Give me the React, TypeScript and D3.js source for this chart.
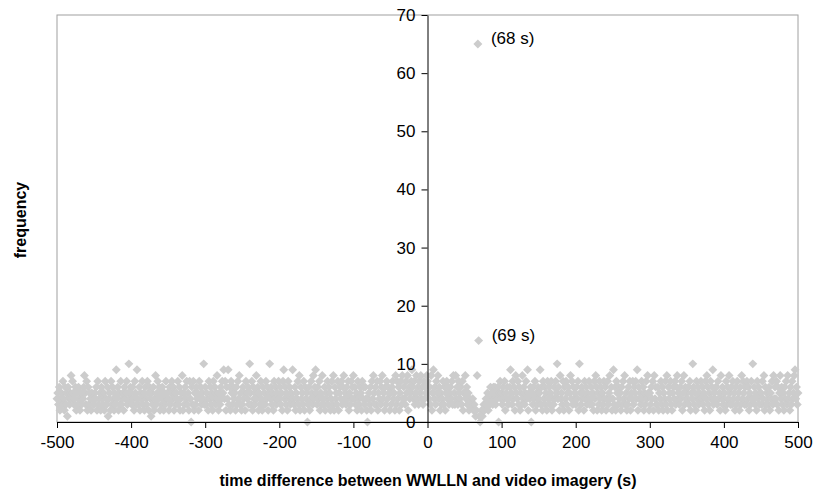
import { useEffect, useRef } from "react"
import * as d3 from "d3"

// frequency per second, one char per second ("a" = 10), rows of 50 s starting at rowStarts[i]
const rowStarts = [-500, -450, -400, -350, -300, -250, -200, -150, -100, -50, 0, 50, 100, 150, 200, 250, 300, 350, 400, 450, 500]
const countRows = [
  "4536245374 2635164358 4753462536 4253546853 7263542543",
  "3546273452 6435274361 4527364253 9462537345 2645735a46",
  "5364275394 3625473526 4375264153 6248357462 5364253745",
  "4263574625 3547362458 2536473527 4063725364 52746354a3",
  "6354274635 2746358425 3647594726 4936275364 5263748352",
  "3645275463 a537264358 4625374263 5374625a46 3527463547",
  "4635279463 5274635494 3625473826 4537264503 6247538469",
  "5364725384 3625473652 4738264537 2564736845 3647253746",
  "8463527436 5274636420 4536274853 6372547368 4526374652",
  "5367452837 4625738464 3758264579 6473584637 5846374658",
  "7546382594 6375846253 4736257463 5647385384 6375463725",
  "5846352433 3423212800 1012123234 3524364536 4635460574",
  "5364725463 4695374628 5473625384 6357492546 0536472536",
  "4593627463 5274635724 36475a4628 4537264735 6258473645",
  "36472a5364 5274635473 4635274862 5374625374 6247358462",
  "4936275364 5263748352 3647254736 5749264537 4625374852",
  "5364728463 3625473625 4738264573 2564736845 3647258364",
  "54637254a6 3527463547 4635274863 5274693546 6374528463",
  "4527364853 6374526374 5263847536 374625374a 4635274635",
  "5374826354 3625473846 4736258463 5264738452 6374589463",
  "5",
]

// the two labelled outliers
const peakTimes = [68, 69]
const peakCounts = [65, 14]
const peakLabels = ["(68 s)", "(69 s)"]

const xTicks = [-500, -400, -300, -200, -100, 0, 100, 200, 300, 400, 500]
const yTicks = [0, 10, 20, 30, 40, 50, 60, 70]

const font = "'Liberation Sans', Arial, sans-serif"
const markerColor = "#cccccc"

export default function App() {
  const svgRef = useRef<SVGSVGElement>(null)

  useEffect(() => {
    if (!svgRef.current) return
    document.body.style.margin = "0"

    const svg = d3.select(svgRef.current)
    svg.selectAll("*").remove()

    // build points
    const data: { t: number; n: number }[] = []
    rowStarts.forEach((start, r) => {
      const chars = countRows[r].replace(/\s/g, "").split("")
      chars.forEach((c, i) => {
        const t = start + i
        const k = peakTimes.indexOf(t)
        const n = k >= 0 ? peakCounts[k] : c === "a" ? 10 : +c
        data.push({ t, n })
      })
    })

    const x = d3.scaleLinear().domain([-500, 500]).range([57, 798])
    const y = d3.scaleLinear().domain([0, 70]).range([422, 15])

    // plot frame
    svg
      .append("rect")
      .attr("x", x(-500))
      .attr("y", y(70))
      .attr("width", x(500) - x(-500))
      .attr("height", y(0) - y(70))
      .attr("fill", "none")
      .attr("stroke", "#a0a0a0")
      .attr("stroke-width", 1)

    // markers
    const diamond = d3.symbol().type(d3.symbolSquare).size(40)
    svg
      .append("g")
      .selectAll("path")
      .data(data)
      .enter()
      .append("path")
      .attr("d", diamond)
      .attr("transform", (d) => `translate(${x(d.t)},${y(d.n)}) rotate(45)`)
      .attr("fill", markerColor)

    // x axis along y = 0
    const xAxis = svg
      .append("g")
      .attr("transform", `translate(0,${y(0)})`)
      .call(
        d3
          .axisBottom(x)
          .tickValues(xTicks)
          .tickFormat((d) => String(d))
          .tickSize(6)
          .tickSizeOuter(0)
          .tickPadding(8),
      )
    xAxis.select(".domain").attr("stroke", "#000")
    xAxis.selectAll("line").attr("stroke", "#000")
    xAxis.selectAll("text").attr("font-family", font).attr("font-size", "17px").attr("fill", "#000")

    // y axis at x = 0
    const yAxis = svg
      .append("g")
      .attr("transform", `translate(${x(0)},0)`)
      .call(
        d3
          .axisLeft(y)
          .tickValues(yTicks)
          .tickFormat((d) => String(d))
          .tickSize(6)
          .tickSizeOuter(0)
          .tickPadding(6),
      )
    yAxis.select(".domain").attr("stroke", "#000")
    yAxis.selectAll("line").attr("stroke", "#000")
    yAxis.selectAll("text").attr("font-family", font).attr("font-size", "17px").attr("fill", "#000")

    // peak labels
    svg
      .append("g")
      .selectAll("text")
      .data(peakTimes)
      .enter()
      .append("text")
      .attr("x", (d) => x(d) + 13)
      .attr("y", (_, i) => y(peakCounts[i]))
      .attr("font-family", font)
      .attr("font-size", "17px")
      .text((_, i) => peakLabels[i])

    // axis titles
    svg
      .append("text")
      .attr("x", 428)
      .attr("y", 486)
      .attr("text-anchor", "middle")
      .attr("font-family", font)
      .attr("font-size", "16px")
      .attr("font-weight", "bold")
      .text("time difference between WWLLN and video imagery (s)")

    svg
      .append("text")
      .attr("transform", "translate(26,220) rotate(-90)")
      .attr("text-anchor", "middle")
      .attr("font-family", font)
      .attr("font-size", "16px")
      .attr("font-weight", "bold")
      .text("frequency")
  }, [])

  return <svg ref={svgRef} width={814} height={491} style={{ display: "block" }}></svg>
}
